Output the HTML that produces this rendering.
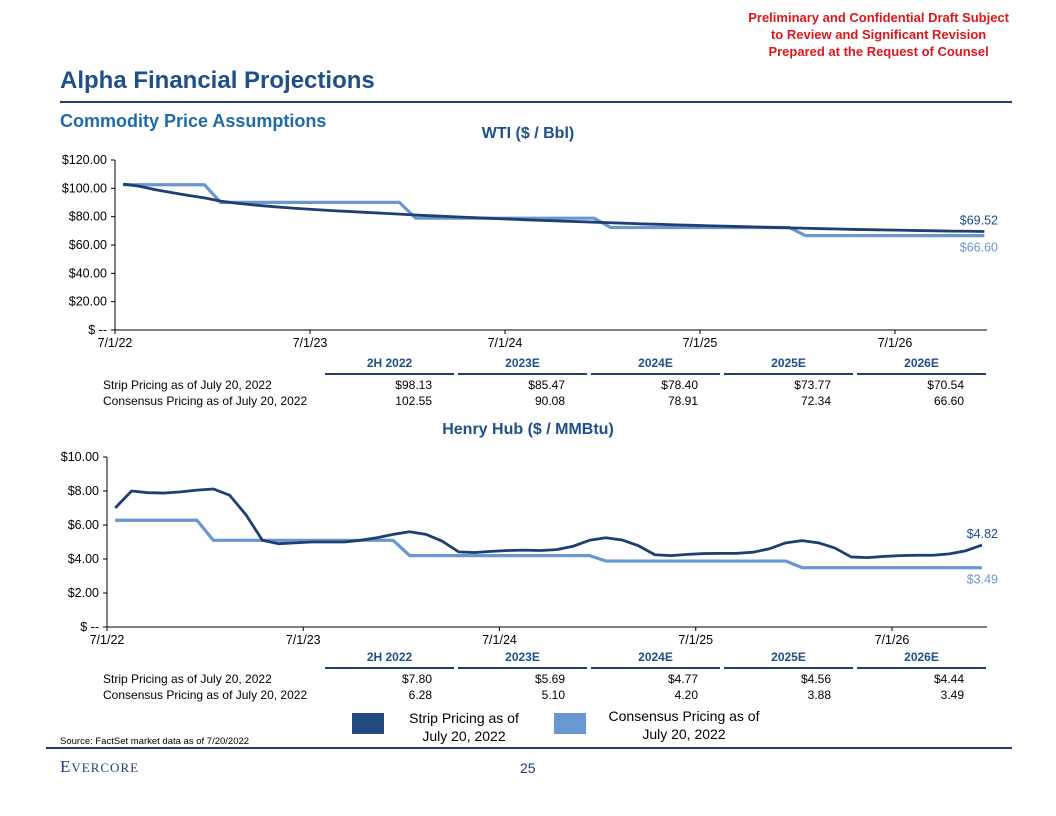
<!DOCTYPE html>
<html><head><meta charset="utf-8"><style>
body{margin:0;width:1056px;height:816px;background:#fff;font-family:"Liberation Sans",Arial,sans-serif;position:relative;overflow:hidden}
.a{position:absolute}
.hdr{right:47px;top:9px;color:#e0161b;font-weight:bold;font-size:13px;text-align:center;line-height:17px}
.title{left:60px;top:67px;color:#1f4e8c;font-weight:bold;font-size:24px}
.sub{left:60px;top:111px;color:#1f6aab;font-weight:bold;font-size:18px}
.ct{color:#1f4e8c;font-weight:bold;font-size:16px;width:1056px;text-align:center;left:0}
table{border-collapse:separate;border-spacing:0;font-size:12px;color:#000}
td{padding:0;height:16px}
th{font-size:12px;color:#1f4e8c;font-weight:bold;text-align:center;border-bottom:2px solid #1f3f73;padding:0 0 3px;width:129px}
th.g{border:none;width:4px}
td.v{text-align:right;padding-right:22px}
</style></head><body>
<div class="a hdr">Preliminary and Confidential Draft Subject<br>to Review and Significant Revision<br>Prepared at the Request of Counsel</div>
<div class="a title">Alpha Financial Projections</div>
<div class="a" style="left:60px;top:101px;width:952px;height:2px;background:#1f3f73"></div>
<div class="a sub">Commodity Price Assumptions</div>
<div class="a ct" style="top:125px">WTI ($ / Bbl)</div>
<svg class="a" id="wti" style="left:0;top:0" width="1056" height="816"></svg>

<table class="a" style="left:103px;top:356px">
<tr><th style="width:222px;border:none"></th><th>2H 2022</th><th class="g"></th><th>2023E</th><th class="g"></th><th>2024E</th><th class="g"></th><th>2025E</th><th class="g"></th><th>2026E</th></tr>
<tr><td style="height:2px"></td></tr>
<tr><td>Strip Pricing as of July 20, 2022</td><td class="v">$98.13</td><td></td><td class="v">$85.47</td><td></td><td class="v">$78.40</td><td></td><td class="v">$73.77</td><td></td><td class="v">$70.54</td></tr>
<tr><td>Consensus Pricing as of July 20, 2022</td><td class="v">102.55</td><td></td><td class="v">90.08</td><td></td><td class="v">78.91</td><td></td><td class="v">72.34</td><td></td><td class="v">66.60</td></tr>
</table>

<div class="a ct" style="top:421px">Henry Hub ($ / MMBtu)</div>

<table class="a" style="left:103px;top:650px">
<tr><th style="width:222px;border:none"></th><th>2H 2022</th><th class="g"></th><th>2023E</th><th class="g"></th><th>2024E</th><th class="g"></th><th>2025E</th><th class="g"></th><th>2026E</th></tr>
<tr><td style="height:2px"></td></tr>
<tr><td>Strip Pricing as of July 20, 2022</td><td class="v">$7.80</td><td></td><td class="v">$5.69</td><td></td><td class="v">$4.77</td><td></td><td class="v">$4.56</td><td></td><td class="v">$4.44</td></tr>
<tr><td>Consensus Pricing as of July 20, 2022</td><td class="v">6.28</td><td></td><td class="v">5.10</td><td></td><td class="v">4.20</td><td></td><td class="v">3.88</td><td></td><td class="v">3.49</td></tr>
</table>

<div class="a" style="left:352px;top:713px;width:32px;height:21px;background:#234a7e"></div>
<div class="a" style="left:404px;top:709px;width:120px;text-align:center;font-size:14px;line-height:18px">Strip Pricing as of July 20, 2022</div>
<div class="a" style="left:554px;top:713px;width:32px;height:21px;background:#6a96d2"></div>
<div class="a" style="left:604px;top:707px;width:160px;text-align:center;font-size:14px;line-height:18px">Consensus Pricing as of July 20, 2022</div>
<div class="a" style="left:60px;top:736px;font-size:9.5px">Source: FactSet market data as of 7/20/2022</div>
<div class="a" style="left:46px;top:747px;width:966px;height:2px;background:#1f3f73"></div>
<div class="a" style="left:60px;top:757px;font-family:'Liberation Serif',serif;font-size:17px;color:#1f3f73;letter-spacing:1px">E<span style="font-size:13px">VERCORE</span></div>
<div class="a" style="left:520px;top:760px;font-size:14px;color:#1f3f73">25</div>

<svg class="a" id="hh" style="left:0;top:0" width="1056" height="816"></svg>

<script>
const xTickLabels=["7/1/22","7/1/23","7/1/24","7/1/25","7/1/26"];
const wtiTicks=[0,20,40,60,80,100,120];
const wtiTickLabels=["$ --","$20.00","$40.00","$60.00","$80.00","$100.00","$120.00"];
const wtiStrip=[103,101.5,99,97,95,93.3,91,89.5,88.3,87.3,86.4,85.6,84.9,84.2,83.6,83,82.4,81.8,81.2,80.6,80.1,79.6,79.1,78.6,78.2,77.7,77.3,76.9,76.5,76.1,75.7,75.3,74.9,74.6,74.2,73.9,73.6,73.3,73,72.7,72.4,72.1,71.8,71.5,71.3,71.0,70.8,70.6,70.4,70.2,70.0,69.8,69.7,69.52];
const wtiConsensusByPeriod=[102.55,90.08,78.91,72.34,66.60];
const hhTicks=[0,2,4,6,8,10];
const hhTickLabels=["$ --","$2.00","$4.00","$6.00","$8.00","$10.00"];
const hhStrip=[7.0,8.0,7.9,7.88,7.95,8.05,8.12,7.75,6.6,5.1,4.9,4.95,5.0,5.0,5.0,5.1,5.25,5.45,5.6,5.45,5.05,4.42,4.38,4.45,4.5,4.52,4.5,4.55,4.75,5.1,5.25,5.12,4.78,4.25,4.2,4.27,4.32,4.33,4.33,4.4,4.6,4.95,5.08,4.95,4.65,4.12,4.08,4.15,4.2,4.22,4.22,4.3,4.48,4.82];
const hhConsensusByPeriod=[6.28,5.10,4.20,3.88,3.49];
const NS="http://www.w3.org/2000/svg";
function periodOf(i){return i<6?0:Math.floor((i-6)/12)+1;}
function mk(svg,tag,attrs,txt){const e=document.createElementNS(NS,tag);for(const k in attrs)e.setAttribute(k,attrs[k]);if(txt!==undefined)e.textContent=txt;svg.appendChild(e);return e;}
function chart(id,x0,yearW,xEnd,yBase,yTop,vmax,ticks,tickLabels,strip,cons,fmt){
  const svg=document.getElementById(id);
  const X=m=>x0+m*yearW/12;
  const Y=v=>yBase-(v/vmax)*(yBase-yTop);
  let e=mk(svg,'line',{x1:x0,y1:yTop,x2:x0,y2:yBase,stroke:'#000','stroke-width':1});
  
  
  e=mk(svg,'line',{x1:x0,y1:yBase,x2:xEnd,y2:yBase,stroke:'#000','stroke-width':1});
  
  
  ticks.forEach((t,i)=>{
    mk(svg,'line',{x1:x0-4,y1:Y(t),x2:x0,y2:Y(t),stroke:'#000'});
    e=mk(svg,'text',{x:x0-8,y:Y(t)+4,'text-anchor':'end','font-size':12.5,'font-family':'Liberation Sans, sans-serif'},tickLabels[i]);
    
    
  });
  xTickLabels.forEach((l,i)=>{
    const x=X(i*12);
    mk(svg,'line',{x1:x,y1:yBase,x2:x,y2:yBase+4,stroke:'#000'});
    e=mk(svg,'text',{x:x,y:yBase+17,'text-anchor':'middle','font-size':12.5,'font-family':'Liberation Sans, sans-serif'},l);
    
    
  });
  const cpts=strip.map((_,i)=>X(i+0.5)+','+Y(cons[periodOf(i)])).join(' ');
  e=mk(svg,'polyline',{points:cpts,fill:'none',stroke:'#6a96d2','stroke-width':3.2,'stroke-linejoin':'round'});
  
  
  const spts=strip.map((v,i)=>X(i+0.5)+','+Y(v)).join(' ');
  e=mk(svg,'polyline',{points:spts,fill:'none',stroke:'#1f3f73','stroke-width':2.8,'stroke-linejoin':'round'});
  
  
  const n=strip.length-1;
  e=mk(svg,'text',{x:998,y:Y(strip[n])-7,'text-anchor':'end','font-size':12.5,fill:'#1f4e8c','font-family':'Liberation Sans, sans-serif'},'$'+fmt(strip[n]));
  
  
  const c=cons[cons.length-1];
  e=mk(svg,'text',{x:998,y:Y(c)+16,'text-anchor':'end','font-size':12.5,fill:'#6a96d2','font-family':'Liberation Sans, sans-serif'},'$'+fmt(c));
  
  
}
chart('wti',115,195,987,330,160,120,wtiTicks,wtiTickLabels,wtiStrip,wtiConsensusByPeriod,v=>v.toFixed(2));
chart('hh',107,196.25,987,627,457,10,hhTicks,hhTickLabels,hhStrip,hhConsensusByPeriod,v=>v.toFixed(2));
</script>
</body></html>
